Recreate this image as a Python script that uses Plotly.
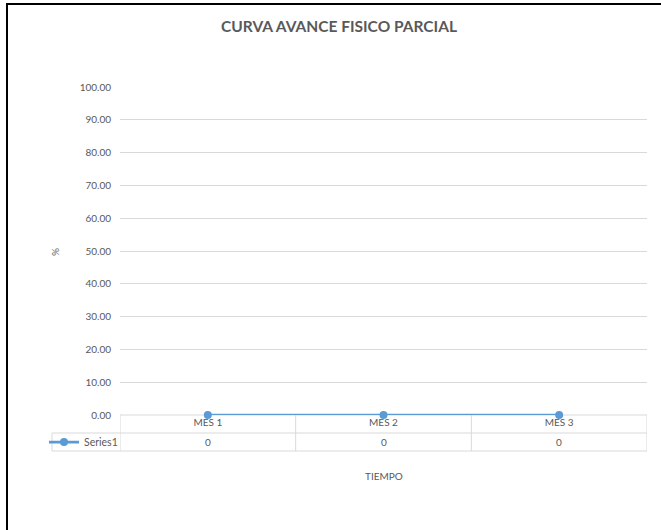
import plotly.graph_objects as go

# ---- data ----
categories = ["MES 1", "MES 2", "MES 3"]
series_name = "Series1"
series_values = [0, 0, 0]
y_ticks = [0, 10, 20, 30, 40, 50, 60, 70, 80, 90, 100]

title_text = "CURVA AVANCE FISICO PARCIAL"
x_title = "TIEMPO"
y_title = "%"

# ---- layout constants (pixels) ----
W, H = 661, 530
L, R, T, B = 120, 14, 87, 115
PW, PH = W - L - R, H - T - B
FONT = "Lato, 'Open Sans', sans-serif"
GREY = "#595959"
GRID = "#d9d9d9"
BLUE = "#5b9bd5"

def px_x(px):
    return (px - L) / PW

def px_y(py):
    return (H - B - py) / PH

fig = go.Figure()
fig.add_trace(go.Scatter(
    x=categories, y=series_values, name=series_name, mode="lines+markers",
    line=dict(color=BLUE, width=2.75), marker=dict(color=BLUE, size=8),
    cliponaxis=False,
))

shapes = []
row1 = 433
row2 = 451
top = H - B
for yy, x0 in [(top, L), (row1, 52), (row2, 52)]:
    shapes.append(dict(type="line", xref="paper", yref="paper",
                       x0=px_x(x0), x1=1, y0=px_y(yy), y1=px_y(yy),
                       line=dict(color=GRID, width=1), layer="below"))
shapes.append(dict(type="line", xref="paper", yref="paper",
                   x0=px_x(52), x1=px_x(52), y0=px_y(row1), y1=px_y(row2),
                   line=dict(color=GRID, width=1)))
for k in range(len(categories) + 1):
    shapes.append(dict(type="line", xref="x", yref="paper",
                       x0=k - 0.5, x1=k - 0.5, y0=px_y(top), y1=px_y(row2),
                       line=dict(color=GRID, width=1), layer="below"))
# chart border (black, top and left)
shapes.append(dict(type="line", xref="paper", yref="paper",
                   x0=px_x(6), x1=px_x(W + 5), y0=px_y(4), y1=px_y(4),
                   line=dict(color="black", width=2)))
shapes.append(dict(type="line", xref="paper", yref="paper",
                   x0=px_x(7), x1=px_x(7), y0=px_y(3), y1=px_y(H + 5),
                   line=dict(color="black", width=2)))

annotations = []
for c, v in zip(categories, series_values):
    annotations.append(dict(x=c, xref="x", y=px_y((row1 + row2) / 2), yref="paper",
                            text=str(v), showarrow=False,
                            xanchor="center", yanchor="middle",
                            font=dict(family=FONT, size=10, color=GREY)))
annotations.append(dict(x=px_x(55), xref="paper", y=px_y(252), yref="paper",
                        text=y_title, showarrow=False, textangle=-90,
                        xanchor="center", yanchor="middle",
                        font=dict(family=FONT, size=10, color=GREY)))
annotations.append(dict(x=0.5, xref="paper", y=px_y(476), yref="paper",
                        text=x_title, showarrow=False,
                        xanchor="center", yanchor="middle",
                        font=dict(family=FONT, size=10, color=GREY)))

fig.update_layout(
    width=W, height=H,
    margin=dict(l=L, r=R, t=T, b=B, autoexpand=False),
    paper_bgcolor="white", plot_bgcolor="white",
    font=dict(family=FONT, size=10, color=GREY),
    title=dict(text="<b>" + title_text + "</b>", x=339 / W, xref="container",
               y=1 - 27 / H, yref="container", xanchor="center", yanchor="middle",
               font=dict(family=FONT, size=15.5, color=GREY)),
    showlegend=True,
    legend=dict(x=px_x(44), y=px_y((row1 + row2) / 2), xanchor="left", yanchor="middle",
                bgcolor="rgba(0,0,0,0)", font=dict(family=FONT, size=10.5, color=GREY),
                itemwidth=30, tracegroupgap=0),
    xaxis=dict(type="category", range=[-0.5, len(categories) - 0.5],
               showgrid=False, zeroline=False, showline=False, ticks="",
               tickfont=dict(family=FONT, size=10, color=GREY), ticklabelstandoff=0),
    yaxis=dict(range=[0, 100], tickvals=y_ticks, tickformat=".2f",
               showgrid=True, gridcolor=GRID, gridwidth=1, zeroline=False,
               showline=False, ticks="", ticklabelstandoff=8,
               tickfont=dict(family=FONT, size=10, color=GREY)),
    shapes=shapes, annotations=annotations,
)

fig.write_html("out.html", config={"displayModeBar": False},
               post_script="document.body.style.margin='0';document.body.style.overflow='hidden';")
